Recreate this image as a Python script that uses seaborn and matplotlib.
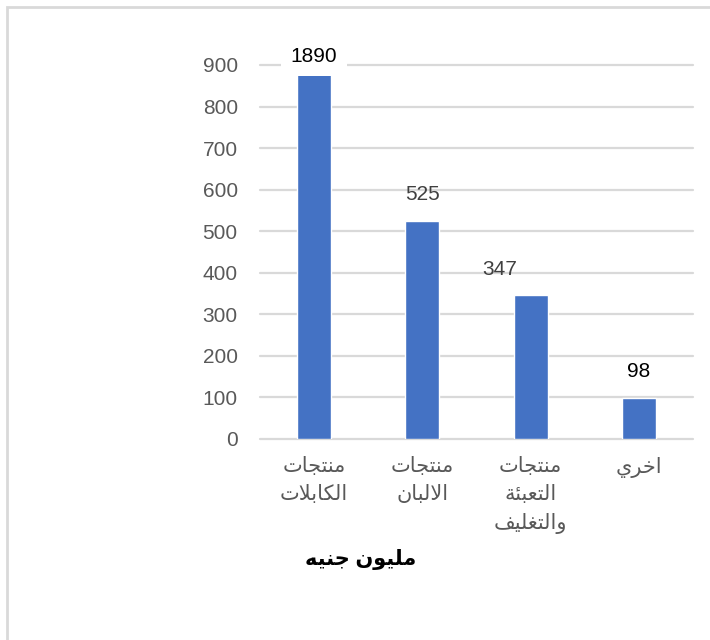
import numpy as np
import pandas as pd
import matplotlib
matplotlib.use('Agg')
from matplotlib import pyplot as plt
from matplotlib.patches import Rectangle
import seaborn as sns

categories = ['منتجات\nالكابلات', 'منتجات\nالالبان', 'منتجات\nالتعبئة\nوالتغليف', 'اخري']
values = [1890, 525, 347, 98]
y_ticks = [0, 100, 200, 300, 400, 500, 600, 700, 800, 900]
axis_title = 'مليون جنيه'

# arabic presentation forms: isolated, final, initial, medial
FORMS = {
    'ا': (0xFE8D, 0xFE8E, None, None),
    'ب': (0xFE8F, 0xFE90, 0xFE91, 0xFE92),
    'ة': (0xFE93, 0xFE94, None, None),
    'ت': (0xFE95, 0xFE96, 0xFE97, 0xFE98),
    'ج': (0xFE9D, 0xFE9E, 0xFE9F, 0xFEA0),
    'خ': (0xFEA5, 0xFEA6, 0xFEA7, 0xFEA8),
    'ر': (0xFEAD, 0xFEAE, None, None),
    'ع': (0xFEC9, 0xFECA, 0xFECB, 0xFECC),
    'غ': (0xFECD, 0xFECE, 0xFECF, 0xFED0),
    'ف': (0xFED1, 0xFED2, 0xFED3, 0xFED4),
    'ك': (0xFED9, 0xFEDA, 0xFEDB, 0xFEDC),
    'ل': (0xFEDD, 0xFEDE, 0xFEDF, 0xFEE0),
    'م': (0xFEE1, 0xFEE2, 0xFEE3, 0xFEE4),
    'ن': (0xFEE5, 0xFEE6, 0xFEE7, 0xFEE8),
    'ه': (0xFEE9, 0xFEEA, 0xFEEB, 0xFEEC),
    'و': (0xFEED, 0xFEEE, None, None),
    'ي': (0xFEF1, 0xFEF2, 0xFEF3, 0xFEF4),
    'ئ': (0xFE89, 0xFE8A, 0xFE8B, 0xFE8C),
}


def shape_line(line):
    out = []
    i = 0
    n = len(line)
    while i < n:
        c = line[i]
        if c not in FORMS:
            out.append(c)
            i += 1
            continue
        prev = line[i - 1] if i > 0 else ''
        joins_prev = prev in FORMS and FORMS[prev][2] is not None
        if c == 'ل' and i + 1 < n and line[i + 1] == 'ا':
            out.append(chr(0xFEFC if joins_prev else 0xFEFB))
            i += 2
            continue
        nxt = line[i + 1] if i + 1 < n else ''
        iso, fin, ini, med = FORMS[c]
        joins_next = nxt in FORMS and ini is not None
        if joins_prev and joins_next:
            g = med
        elif joins_prev:
            g = fin
        elif joins_next:
            g = ini
        else:
            g = iso
        out.append(chr(g))
        i += 1
    return ''.join(out[::-1])


def shape(text):
    return '\n'.join(shape_line(l) for l in text.split('\n'))


sns.set_style('white')
plt.rcParams['font.family'] = ['Liberation Sans', 'DejaVu Sans']

df = pd.DataFrame({'cat': [shape(c) for c in categories], 'val': values})

fig = plt.figure(figsize=(7.1, 6.4), dpi=100)
fig.patches.append(Rectangle((7 / 710, -0.1), 1.2, 1 - 7 / 640 + 0.1, transform=fig.transFigure,
                             fill=False, edgecolor='#D9D9D9', linewidth=2))
ax = fig.add_axes([260 / 710, 1 - 439 / 640, 433 / 710, 374 / 640])

sns.barplot(data=df, x='cat', y='val', color='#4472C4', saturation=1, width=0.315, ax=ax, zorder=3)

ax.set_ylim(0, 900)
ax.set_xlim(-0.5, 3.5)
ax.set_yticks(y_ticks)
ax.yaxis.grid(True, color='#D9D9D9', linewidth=1.6)
for gl in ax.get_ygridlines():
    gl.set_clip_on(False)
ax.set_axisbelow(True)
sns.despine(ax=ax, left=True, bottom=True)
ax.tick_params(axis='y', length=0, pad=16, labelsize=15, labelcolor='#595959')
ax.tick_params(axis='x', length=0, pad=13, labelsize=15, labelcolor='#595959')
for lab in ax.get_xticklabels():
    lab.set_linespacing(1.58)
ax.set_xlabel('')
ax.set_ylabel('')

# offsets in points from the bar top, label colours as in the source chart
label_offsets = [(0, 6), (0, 19), (-22, 18), (0, 19)]
label_colors = ['black', '#404040', '#404040', 'black']
for i, v in enumerate(values):
    dx, dy = label_offsets[i]
    ax.annotate(str(v), (i, min(v, 900)), xytext=(dx, dy), textcoords='offset points',
                ha='center', va='center', fontsize=15, color=label_colors[i], annotation_clip=False,
                bbox=dict(facecolor='white', edgecolor='none', pad=7) if v > 900 else None,
                zorder=5)

fig.text(361 / 710, 1 - 560 / 640, shape(axis_title), ha='center', va='center',
         fontsize=15, fontweight='bold', color='black')

plt.savefig('out.png', dpi=100)
